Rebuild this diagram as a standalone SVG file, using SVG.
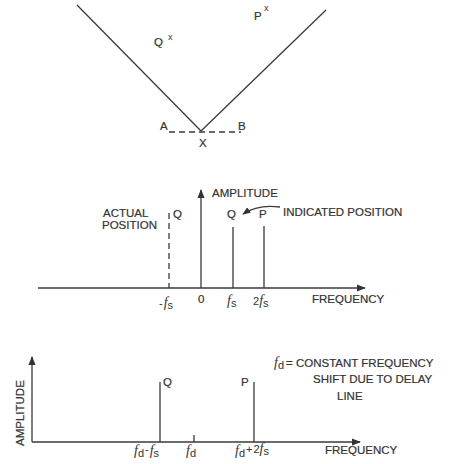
<svg xmlns="http://www.w3.org/2000/svg" width="451" height="464" viewBox="0 0 451 464">
<defs>
<marker id="ah" viewBox="0 0 10 10" refX="9" refY="5" markerWidth="8" markerHeight="8" markerUnits="userSpaceOnUse" orient="auto">
<path d="M0,1 L10,5 L0,9 Z" fill="#333"/>
</marker>
<marker id="ah2" viewBox="0 0 10 10" refX="9" refY="5" markerWidth="9" markerHeight="9" markerUnits="userSpaceOnUse" orient="auto">
<path d="M0,1 L10,5 L0,9 Z" fill="#333"/>
</marker>
</defs>
<style>
.ln{stroke:#3a3a3a;stroke-width:1.3;fill:none}
.dash{stroke:#3a3a3a;stroke-width:1.3;fill:none;stroke-dasharray:6,4}
.t{font-family:"Liberation Sans",Arial,sans-serif;font-size:11.5px;fill:#333;stroke:#333;stroke-width:0.2}
.f{font-family:"Liberation Serif","Times New Roman",serif;font-style:italic;font-size:14px;fill:#333}
.s{font-family:"Liberation Sans",Arial,sans-serif;font-size:11px;fill:#333}
.x{font-family:"Liberation Sans",Arial,sans-serif;font-size:9px;fill:#333}
</style>
<rect width="451" height="464" fill="#fff"/>

<g id="top-figure">
<line class="ln" x1="77" y1="5" x2="201" y2="131"/>
<line class="ln" x1="201" y1="131" x2="326" y2="10"/>
<line class="dash" x1="169" y1="132" x2="241" y2="132"/>
<text class="t" x="160" y="130">A</text>
<text class="t" x="238" y="130">B</text>
<text class="t" x="199" y="147">X</text>
<text class="t" x="154" y="46">Q</text>
<text class="x" x="168" y="40">x</text>
<text class="t" x="254" y="20">P</text>
<text class="x" x="264" y="11">x</text>
</g>

<g id="middle-chart">
<line class="ln" x1="38" y1="288" x2="365" y2="288" marker-end="url(#ah2)"/>
<line class="ln" x1="201" y1="288" x2="201" y2="190" marker-end="url(#ah2)"/>
<line class="dash" x1="169" y1="213" x2="169" y2="288"/>
<line class="ln" x1="233" y1="227" x2="233" y2="288"/>
<line class="ln" x1="264" y1="226" x2="264" y2="288"/>
<path class="ln" d="M280,207 Q258,204 243,214" marker-end="url(#ah)"/>
<text class="t" x="212" y="197">AMPLITUDE</text>
<text class="t" x="103" y="217">ACTUAL</text>
<text class="t" x="102" y="229">POSITION</text>
<text class="t" x="173" y="218">Q</text>
<text class="t" x="227" y="218">Q</text>
<text class="t" x="259" y="218">P</text>
<text class="t" x="283" y="216">INDICATED POSITION</text>
<text x="159" y="307"><tspan class="s">-</tspan><tspan class="f" dx="1">f</tspan><tspan class="s" dy="2">s</tspan></text>
<text class="t" x="198" y="303">0</text>
<text x="227" y="305"><tspan class="f">f</tspan><tspan class="s" dy="2">s</tspan></text>
<text x="253" y="305"><tspan class="s">2</tspan><tspan class="f">f</tspan><tspan class="s" dy="2">s</tspan></text>
<text class="t" x="312" y="303">FREQUENCY</text>
</g>

<g id="bottom-chart">
<line class="ln" x1="32" y1="442" x2="360" y2="442" marker-end="url(#ah2)"/>
<line class="ln" x1="32" y1="442" x2="32" y2="357" marker-end="url(#ah2)"/>
<line class="ln" x1="160" y1="382" x2="160" y2="442"/>
<line class="ln" x1="254" y1="382" x2="254" y2="442"/>
<line class="ln" x1="194" y1="435" x2="194" y2="442"/>
<text class="t" transform="translate(24,446) rotate(-90)">AMPLITUDE</text>
<text class="t" x="163" y="386">Q</text>
<text class="t" x="241" y="386">P</text>
<text x="134" y="455"><tspan class="f">f</tspan><tspan class="s" dy="2">d</tspan><tspan class="s" dy="-4" dx="1">-</tspan><tspan class="f" dy="2" dx="1">f</tspan><tspan class="s" dy="2">s</tspan></text>
<text x="186" y="455"><tspan class="f">f</tspan><tspan class="s" dy="2">d</tspan></text>
<text x="235" y="455"><tspan class="f">f</tspan><tspan class="s" dy="2">d</tspan><tspan class="s" dy="-4" dx="1">+</tspan><tspan class="s" dx="1">2</tspan><tspan class="f">f</tspan><tspan class="s" dy="2">s</tspan></text>
<text class="t" x="325" y="454">FREQUENCY</text>
<text x="274" y="367"><tspan class="f">f</tspan><tspan class="s" dy="2">d</tspan><tspan class="t" dy="-2" dx="2">= CONSTANT FREQUENCY</tspan></text>
<text class="t" x="313" y="383">SHIFT DUE TO DELAY</text>
<text class="t" x="337" y="400">LINE</text>
</g>
</svg>
